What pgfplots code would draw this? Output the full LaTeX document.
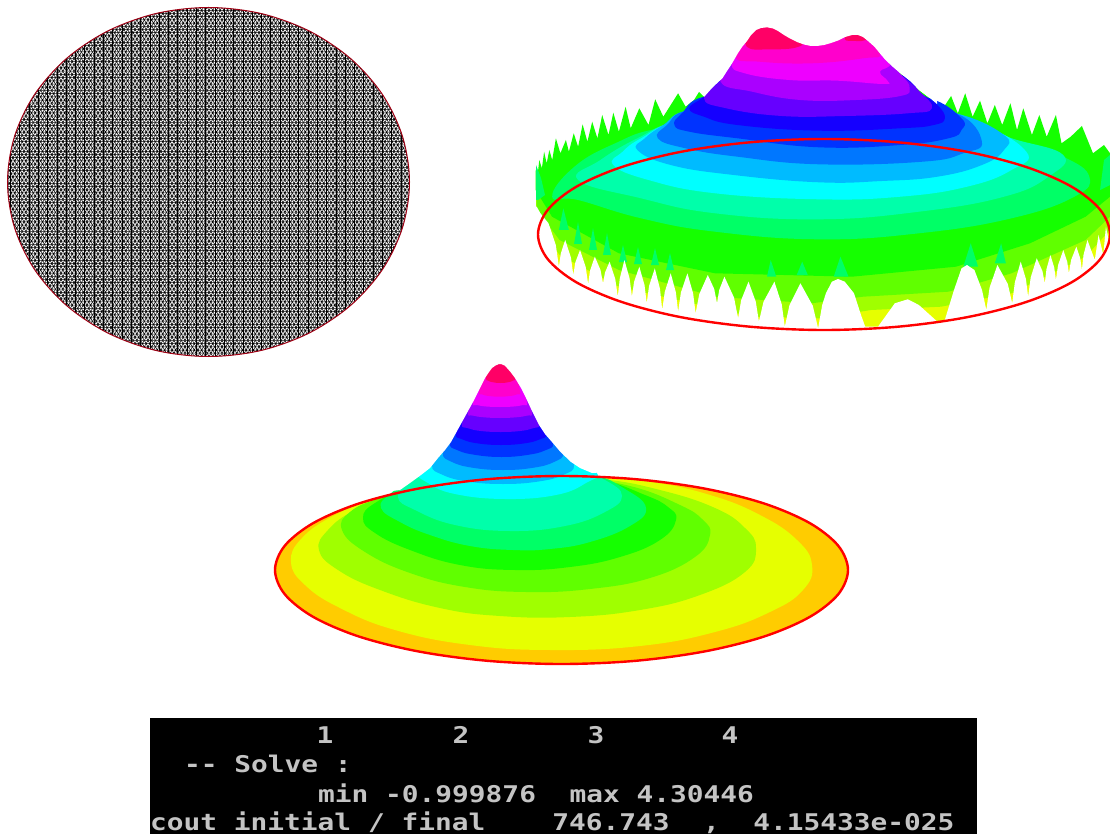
\documentclass[border=0pt]{standalone}
\usepackage{fontspec}
\usepackage{pgfplots}
\pgfplotsset{compat=1.18}
\usetikzlibrary{patterns}
\newfontfamily\dos[FakeStretch=1.21]{DejaVu Sans Mono}
\pgfdeclarepatternformonly{trimesh}{\pgfqpoint{-1pt}{-1pt}}{\pgfqpoint{4.7pt}{7.4pt}}{\pgfqpoint{3.7pt}{6.41pt}}{%
  \pgfsetlinewidth{0.5pt}%
  \pgfpathmoveto{\pgfqpoint{0pt}{0pt}}\pgfpathlineto{\pgfqpoint{3.7pt}{0pt}}%
  \pgfpathmoveto{\pgfqpoint{0pt}{3.205pt}}\pgfpathlineto{\pgfqpoint{3.7pt}{3.205pt}}%
  \pgfpathmoveto{\pgfqpoint{0pt}{0pt}}\pgfpathlineto{\pgfqpoint{3.7pt}{6.41pt}}%
  \pgfpathmoveto{\pgfqpoint{3.7pt}{0pt}}\pgfpathlineto{\pgfqpoint{0pt}{6.41pt}}%
  \pgfusepath{stroke}}
\pgfdeclarepatternformonly{vertmesh}{\pgfqpoint{-1pt}{-1pt}}{\pgfqpoint{10.3pt}{5.1pt}}{\pgfqpoint{9.3pt}{4.1pt}}{%
  \pgfsetlinewidth{0.5pt}%
  \pgfpathmoveto{\pgfqpoint{1pt}{0pt}}\pgfpathlineto{\pgfqpoint{1pt}{4.1pt}}%
  \pgfusepath{stroke}}
\definecolor{c01}{HTML}{FF0066}\definecolor{c02}{HTML}{FF00CC}\definecolor{c03}{HTML}{EE00FF}
\definecolor{c04}{HTML}{AA00FF}\definecolor{c05}{HTML}{6600FF}\definecolor{c06}{HTML}{1500FF}
\definecolor{c07}{HTML}{0033FF}\definecolor{c08}{HTML}{0077FF}\definecolor{c09}{HTML}{00BBFF}
\definecolor{c10}{HTML}{00FFFF}\definecolor{c11}{HTML}{00FFAA}\definecolor{c12}{HTML}{00FF66}
\definecolor{c13}{HTML}{15FF00}\definecolor{c14}{HTML}{60FF00}\definecolor{c15}{HTML}{A0FF00}
\definecolor{c16}{HTML}{E6FF00}\definecolor{c17}{HTML}{FFCC00}\definecolor{term}{HTML}{C4C4C4}
\begin{document}
\begin{tikzpicture}
\begin{axis}[scale only axis,width=1110pt,height=834pt,xmin=0,xmax=1110,ymin=0,ymax=834,y dir=reverse,hide axis,
  sc/.style={smooth cycle,tension=0.75,draw=none,fill=#1},
  pg/.style={draw=none,fill=#1},
  rim/.style={smooth cycle,tension=0.55,draw=#1,line width=2.4pt,fill=none}]
%% canvas
\addplot[pg=white] coordinates {(0,0)(1110,0)(1110,834)(0,834)};
%% ---------- mesh disk
\addplot[smooth cycle,tension=0.55,draw=none,pattern=trimesh,pattern color=black] coordinates {(409.5,182)(402.6,227.2)(382.6,269.25)(350.6,305.4)(309,333.1)(260.5,350.6)(208.5,356.5)(156.5,350.6)(108,333.1)(66.4,305.4)(34.4,269.25)(14.4,227.2)(7.5,182)(14.4,136.8)(34.4,94.75)(66.4,58.6)(108,30.9)(156.5,13.4)(208.5,7.5)(260.5,13.4)(309,30.9)(350.6,58.6)(382.6,94.75)(402.6,136.8)};
\addplot[smooth cycle,tension=0.55,draw=none,pattern=vertmesh,pattern color=black] coordinates {(409.5,182)(402.6,227.2)(382.6,269.25)(350.6,305.4)(309,333.1)(260.5,350.6)(208.5,356.5)(156.5,350.6)(108,333.1)(66.4,305.4)(34.4,269.25)(14.4,227.2)(7.5,182)(14.4,136.8)(34.4,94.75)(66.4,58.6)(108,30.9)(156.5,13.4)(208.5,7.5)(260.5,13.4)(309,30.9)(350.6,58.6)(382.6,94.75)(402.6,136.8)};
\addplot[smooth cycle,tension=0.55,draw={rgb,255:red,160;green,0;blue,20},line width=1pt,fill=none] coordinates {(409.5,182)(402.6,227.2)(382.6,269.25)(350.6,305.4)(309,333.1)(260.5,350.6)(208.5,356.5)(156.5,350.6)(108,333.1)(66.4,305.4)(34.4,269.25)(14.4,227.2)(7.5,182)(14.4,136.8)(34.4,94.75)(66.4,58.6)(108,30.9)(156.5,13.4)(208.5,7.5)(260.5,13.4)(309,30.9)(350.6,58.6)(382.6,94.75)(402.6,136.8)};
%% ---------- top right surface: lower colour bands
\addplot[pg=c16] coordinates {(536,200)(1110,200)(1110,340)(536,340)};
\addplot[pg=c15] coordinates {(536,200)(1110,200)(1110,230)(1085.6,256.7)(1011.5,293.3)(941,306.7)(871,310)(819,318.3)(752,316.7)(618.9,286.7)(559.6,255)(537.4,223)(536,223)};
\addplot[pg=c14] coordinates {(536,190)(1110,190)(1110,216.7)(1085.6,240)(1011.5,273.3)(948.5,291.7)(863,296.7)(811.5,303.3)(715,296.7)(618.9,270)(559.6,240)(537,210)};
%% body with its spiky upper edge
\addplot[pg=c13] coordinates {(535.6,170)(537.4,176.7)(539.3,160)(541.9,168.3)(544.1,151.7)(546.7,163.3)(549.3,150)(552.2,160)(555.9,138.3)(560.4,153.3)(565.9,140)(568.9,151.7)(573.7,133.3)(578.1,146.7)(582.6,124.3)(587.4,141.7)(592.2,121.7)(597.4,138.3)(602.2,115)(608.5,135)(613.3,112.7)(618.9,131.7)(625.6,106.7)(630.7,128.3)(639.3,108.3)(648.5,125)(655.2,99.3)(663.3,116.7)(678.1,93.3)(685.6,106.7)(694,100)(699,92)(704,97)(722.6,78)(880,60)(900,73)(919,90)(937,104)(943,108.3)(951.1,96)(957.8,113.3)(965.2,93.3)(972.6,116.7)(980,100.7)(987.4,123.3)(994.8,105)(1002.2,125)(1010.4,103.3)(1017,130)(1023.3,108.3)(1031.9,135)(1039.3,115)(1046.7,136.7)(1055.9,115)(1061.5,143.3)(1070.7,136.7)(1081.9,126)(1093,153.3)(1104,145)(1110,153.3)(1110,196.7)(1085.6,216.7)(1030,243.3)(956,266.7)(852,276.7)(715,273.3)(618.9,253.3)(552,216.7)(535.6,190)};
%% aqua flames in the lower spikes and at the left edge
\addplot[pg=c12] coordinates {(802.2,261.7)(796.7,275)(807.8,275)};
\addplot[pg=c12] coordinates {(840.4,256.7)(833.7,276.7)(848.5,276.7)};
\addplot[pg=c12] coordinates {(970.7,243.3)(963.3,266.7)(978.1,266.7)};
\addplot[pg=c12] coordinates {(1001.1,243.3)(994.8,263.3)(1005.9,263.3)};
\addplot[pg=c12] coordinates {(563.3,208.3)(558.9,230)(568.9,230)};
\addplot[pg=c12] coordinates {(770.7,260)(767,276.7)(776.3,276.7)};
\addplot[pg=c12] coordinates {(578,222)(574,244)(582,244)};
\addplot[pg=c12] coordinates {(593,228)(589,250)(597,250)};
\addplot[pg=c12] coordinates {(607,233)(603,255)(611,255)};
\addplot[pg=c12] coordinates {(623,245)(619,262)(627,262)};
\addplot[pg=c12] coordinates {(638,247)(634,264)(642,264)};
\addplot[pg=c12] coordinates {(655,248)(651,265)(659,265)};
\addplot[pg=c12] coordinates {(670,253)(666,270)(674,270)};
\addplot[pg=c12] coordinates {(536,165)(541,178)(545,195)(538,200)(536,200)};
\addplot[pg=c12] coordinates {(1104,160)(1110,155)(1110,185)(1100,190)};
%% white notches between lower spikes
\addplot[pg=white] coordinates {(535,206.7)(536.7,206.7)(540.4,213.3)(548.5,223.3)(555.8,245)(558.9,266.7)(560.8,253.4)(565.2,240)(570.9,257.5)(573.3,275)(575.3,262.5)(580,250)(585.7,267)(588.1,284)(590.1,270.4)(594.8,256.7)(600.5,270)(603,283.3)(605,272.5)(609.6,261.7)(615.3,279.2)(617.8,296.7)(619.8,278.4)(624.4,260)(629.6,278.4)(631.9,296.7)(634.1,281.7)(639.3,266.7)(644.5,285)(646.7,303.3)(649.1,285.8)(654.8,268.3)(660,289)(662.2,310)(664.8,291.7)(670.7,273.3)(675.9,292.5)(678.1,311.7)(680.9,292.5)(687.4,273.3)(693.1,293.3)(695.6,313.3)(699.3,294)(707.8,275)(714.2,289)(717,303.3)(719.2,290)(724.4,276.7)(734,297.5)(738.1,318.3)(741.2,300)(748.5,281.7)(755.8,301.7)(758.9,321.7)(763.5,301.7)(774.4,281.7)(781.7,304.2)(784.8,326.7)(789.5,305)(800.4,283.3)(812.8,305.8)(818.1,328.3)(822.2,305)(826,293)(831.9,281.7)(838,279)(844.8,281.7)(854,293.3)(861,315)(865.2,326.7)(878,326.7)(894.8,303.3)(907.8,299.3)(918.9,305)(937.4,321.7)(944.8,320)(954,290)(961.5,268.3)(967,265)(974.4,270)(982,290)(986.3,310)(989.6,287.5)(997.4,265)(1007.8,284)(1012.2,303.3)(1014.8,282.5)(1020.7,261.7)(1025.9,279)(1028.1,296.7)(1030.7,277.5)(1036.7,258.3)(1042.4,271)(1044.8,283.3)(1046.5,269)(1050.4,255)(1054.2,267.5)(1055.9,280)(1058.1,265)(1063.3,250)(1067.2,261.7)(1068.9,273.3)(1071.1,260)(1076.3,246.7)(1080.2,258.3)(1081.9,270)(1083.5,255)(1087.4,240)(1094.8,260)(1098.5,235)(1103.3,255)(1105.9,226.7)(1110,246.7)(1110,345)(535,345)};
%% nested upper bands
\addplot[sc=c12] coordinates {(552.2,196.7)(574.4,166.7)(615.2,143.3)(659.6,128.3)(740,120)(826.3,116.7)(900,118)(974.4,125)(1011.5,138.3)(1063.3,156.7)(1089.3,176.7)(1074.4,196.7)(1011.5,218.3)(918.9,233.3)(818.9,239.3)(715.2,231.7)(641.1,218.3)(578.1,200)};
\addplot[sc=c11] coordinates {(578.1,180)(600.4,160)(637.4,138.3)(678.1,121.7)(750,118)(826.3,116.7)(900,118)(974.4,125)(1011.5,138.3)(1063.3,155)(1048.5,176.7)(1004,196.7)(918.9,211.7)(818.9,219.3)(715.2,213.3)(641.1,198.3)};
\addplot[sc=c10] coordinates {(613.3,165)(622.6,151.7)(641.1,138.3)(678.1,121.7)(750,118)(826.3,116.7)(900,118)(974.4,123.3)(1026.3,151.7)(1011.5,170)(967,186.7)(900.4,196.7)(818.9,199.3)(715.2,193.3)(648.5,180)};
\addplot[sc=c09] coordinates {(637.4,150)(644.8,138.3)(663.3,125)(689.3,110)(760,105)(826.3,103.3)(890,106)(955.9,113.3)(1004,135)(1004,150)(981.9,165)(937.4,176.7)(881.9,181)(818.9,182.3)(733.7,175)(670.7,165)};
\addplot[sc=c08] coordinates {(657.8,138.3)(667,125)(689.3,110)(760,105)(826.3,103.3)(890,106)(955.9,113.3)(981.9,141.7)(963.3,153.3)(922.6,161.7)(818.9,164.3)(737.4,156.7)(685.6,148.3)};
\addplot[sc=c07] coordinates {(674.4,125)(681.9,113.3)(704,96.7)(765,92)(826.3,90)(880,92)(930,98.3)(961.5,118.3)(961.5,130)(948.5,138.3)(900.4,145)(818.9,147.3)(737.4,138.3)(689.3,131.7)};
\addplot[sc=c06] coordinates {(689.3,108.3)(704,96.7)(722.6,80)(810,72)(900.4,75)(918.9,91.7)(937.4,105)(944.8,118.3)(933.7,125)(900.4,128.3)(818.9,130.7)(737.4,125)(704,116.7)};
\addplot[sc=c05] coordinates {(931.9,108.3)(907.8,113.3)(844.8,116)(781.9,116)(726.3,108.3)(704,98.3)(722.6,78.3)(745,50)(800,45)(870,45)(900.4,74)(918.9,90.7)};
\addplot[sc=c04] coordinates {(720.7,81.7)(735,55)(800,42)(870,45)(900.4,74)(909.6,88.3)(900.4,96)(855.9,100)(800.4,100)(752.2,91.7)};
\addplot[sc=c03] coordinates {(731.9,63.3)(745,40)(800,36)(870,36)(890,62)(880,71.7)(887.4,80.7)(883.7,84)(837.4,80.7)(789.3,80)(744.8,73.3)};
\addplot[sc=c02] coordinates {(735.6,56.7)(750,30)(800,30)(860,28)(880,53.3)(863.3,58.3)(811.5,63.3)(759.6,61.7)};
\addplot[sc=c01] coordinates {(746.7,46.7)(752,28)(775,22)(800,40)(796.7,47.3)(770.7,49.3)};
\addplot[sc=c01] coordinates {(844.8,39.3)(852,30)(870,35)(866,40)(855.9,41)};
%% white above the peak's crest
\addplot[pg=white] coordinates {(704,97)(712,88)(722.6,78)(727,71)(731,65)(734,60)(738,53)(742,47)(747,41)(751,35)(756,30)(761,28)(767,27.3)(773,28.5)(778,31)(784,35)(790,38.5)(797,42)(804,44.5)(811,46)(817,46)(824,45)(831,43)(838,40.5)(845,37)(852,35)(858,35)(863,37)(868,41)(874.4,46.7)(880,53.5)(885.5,60)(893,67)(900,73)(910,81)(919,90)(930,98)(937,104)(937,15)(704,15)};
\addplot[rim=red] coordinates {(1110,234.5)(1100.2,259.2)(1071.7,282.25)(1026.2,302)(967,317.2)(898,326.7)(824,330)(750,326.7)(681,317.2)(621.8,302)(576.3,282.25)(547.8,259.2)(538,234.5)(547.8,209.8)(576.3,186.75)(621.8,167)(681,151.8)(750,142.3)(824,139)(898,142.3)(967,151.8)(1026.2,167)(1071.7,186.75)(1100.2,209.8)};
%% ---------- bottom surface
\addplot[smooth cycle,tension=0.55,draw=none,fill=c17] coordinates {(848,570)(838.2,594.3)(809.6,617)(764.1,636.5)(704.75,651.4)(635.65,660.8)(561.5,664)(487.35,660.8)(418.25,651.4)(358.9,636.5)(313.4,617)(284.8,594.3)(275,570)(284.8,545.7)(313.4,523)(358.9,503.5)(418.25,488.6)(487.35,479.2)(561.5,476)(635.65,479.2)(704.75,488.6)(764.1,503.5)(809.6,523)(838.2,545.7)};
\addplot[sc=c16] coordinates {(812,565)(803,590)(770,612)(715,632)(640,646)(551,650)(470,645)(395,630)(340,608)(305,585)(291,562)(302,538)(335,515)(380,497)(440,484)(510,478)(580,477)(650,482)(710,495)(760,515)(797,540)};
\addplot[sc=c15] coordinates {(756,548)(745,572)(700,595)(640,610)(570,617)(500,616)(440,608)(380,590)(338,570)(319,550)(328,530)(355,510)(398,493)(460,481)(530,477)(600,479)(660,490)(715,508)(745,528)};
\addplot[sc=c14] coordinates {(710,535)(695,557)(650,578)(590,589)(526,592)(465,587)(410,573)(365,552)(342,530)(350,512)(380,498)(430,484)(500,478)(570,478)(630,486)(680,505)(703,520)};
\addplot[sc=c13] coordinates {(676,520)(660,540)(620,557)(570,567)(515,570)(460,565)(410,550)(375,533)(363,518)(375,503)(410,488)(470,478)(540,476)(600,480)(645,495)(668,507)};
\addplot[sc=c12] coordinates {(646,508)(630,526)(590,542)(550,549)(513,550)(470,546)(430,535)(400,522)(381,508)(390,494)(415,480)(460,472)(530,468)(590,474)(625,489)};
\addplot[sc=c11] coordinates {(622,496)(605,512)(565,526)(510,531)(455,525)(415,510)(398,497)(412,480)(450,468)(510,462)(570,466)(605,480)};
\addplot[sc=c10] coordinates {(596,472)(586,483)(556,495)(505,499)(455,494)(428,483)(420,472)(450,455)(505,450)(560,455)};
\addplot[sc=c09] coordinates {(574,465)(563,475)(538.5,481.5)(503,484)(467.5,481.5)(443,475)(432,465)(445,445)(503,438)(560,445)};
\addplot[sc=c08] coordinates {(563,453)(554,462)(533,467.8)(503,470)(473,467.8)(452,462)(443,453)(455,435)(503,428)(551,435)};
\addplot[sc=c07] coordinates {(553,443)(545,450.4)(527,455)(501.5,457)(476,455)(458,450.4)(450,443)(462,425)(501,418)(540,425)};
\addplot[sc=c06] coordinates {(546,433.5)(539,439.6)(523.5,443.5)(501,445)(478.5,443.5)(463,439.6)(456,433.5)(468,415)(501,408)(534,415)};
\addplot[sc=c05] coordinates {(539,424)(533,428.2)(520,431)(500.5,432)(481,431)(468,428.2)(462,424)(472,405)(500,398)(528,405)};
\addplot[sc=c04] coordinates {(532,413)(527,415.6)(516,417.3)(500,418)(484,417.3)(473,415.6)(468,413)(476,395)(500,388)(524,395)};
\addplot[sc=c03] coordinates {(527,403)(523,405)(513.5,406.5)(500,407)(486.5,406.5)(477,405)(473,403)(480,385)(500,378)(520,385)};
\addplot[sc=c02] coordinates {(520,391.7)(517,394.4)(510,396)(499.5,396.7)(489,396)(482,394.4)(479,391.7)(486,372)(500,365)(514,372)};
\addplot[sc=c01] coordinates {(515,378)(513,380.6)(508,382.3)(500.5,383)(493,382.3)(488,380.6)(486,378)(488,365)(500,358)(512,365)};
%% white round the peak
\addplot[pg=white] coordinates {(400,490)(410,483)(421,475)(430,468)(438,458)(445,450)(451,442)(456.5,432)(462,422)(467.5,412)(473,402)(479,390)(485,378)(489,372)(492,368)(495.5,365.5)(499,364)(501,364)(504.5,365.5)(507,368)(510.5,372)(515,378)(521,388)(526,398)(532.5,412)(539,425)(545,434)(552,442)(560.5,452)(571,462)(580,468)(592,473)(640,470)(640,357)(360,357)(360,495)};
\addplot[rim=red] coordinates {(848,570)(838.2,594.3)(809.6,617)(764.1,636.5)(704.75,651.4)(635.65,660.8)(561.5,664)(487.35,660.8)(418.25,651.4)(358.9,636.5)(313.4,617)(284.8,594.3)(275,570)(284.8,545.7)(313.4,523)(358.9,503.5)(418.25,488.6)(487.35,479.2)(561.5,476)(635.65,479.2)(704.75,488.6)(764.1,503.5)(809.6,523)(838.2,545.7)};
%% ---------- terminal
\addplot[pg=black] coordinates {(150,718)(977,718)(977,834)(150,834)};
\node[anchor=base,text=term,inner sep=0pt,font=\dos\bfseries\fontsize{23}{23}\selectfont] at (axis cs:325,743) {1};
\node[anchor=base,text=term,inner sep=0pt,font=\dos\bfseries\fontsize{23}{23}\selectfont] at (axis cs:461,743) {2};
\node[anchor=base,text=term,inner sep=0pt,font=\dos\bfseries\fontsize{23}{23}\selectfont] at (axis cs:596,743) {3};
\node[anchor=base,text=term,inner sep=0pt,font=\dos\bfseries\fontsize{23}{23}\selectfont] at (axis cs:730,743) {4};
\node[anchor=base west,text=term,inner sep=0pt,font=\dos\bfseries\fontsize{23}{23}\selectfont] at (axis cs:184,772) {--~Solve~:};
\node[anchor=base west,text=term,inner sep=0pt,font=\dos\bfseries\fontsize{23}{23}\selectfont] at (axis cs:318,802) {min~-0.999876~~max~4.30446};
\node[anchor=base west,text=term,inner sep=0pt,font=\dos\bfseries\fontsize{23}{23}\selectfont] at (axis cs:150,830) {cout~initial~/~final~~~~746.743~~,~~4.15433e-025};
\end{axis}
\end{tikzpicture}
\end{document}
